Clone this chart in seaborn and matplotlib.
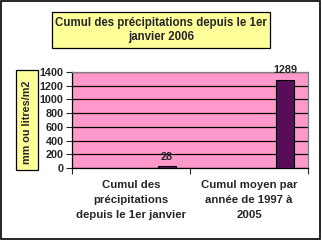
import matplotlib
matplotlib.use("Agg")
import matplotlib.pyplot as plt
import seaborn as sns
import pandas as pd
import numpy as np
from matplotlib.patches import Rectangle

categories = ["Cumul des\nprécipitations\ndepuis le 1er janvier",
              "Cumul moyen par\nannée de 1997 à\n2005"]
values = [28, 1289]
series = "Cumul"
hidden_series = ["s1", "s2"]
title = "Cumul des précipitations depuis le 1er\njanvier 2006"
ylabel = "mm ou litres/m2"
yticks = [0, 200, 400, 600, 800, 1000, 1200, 1400]

sns.set_style("white")
plt.rcParams['font.family'] = ['Liberation Sans', 'DejaVu Sans']
plt.rcParams['font.weight'] = 'bold'

rows = []
for c, v in zip(categories, values):
    for h in hidden_series:
        rows.append({"cat": c, "val": np.nan, "s": h})
    rows.append({"cat": c, "val": v, "s": series})
df = pd.DataFrame(rows)

fig = plt.figure(figsize=(3.22, 2.40), dpi=100)
fig.patch.set_facecolor("white")
fig.add_artist(Rectangle((0.003, 0.004), 0.992, 0.990, transform=fig.transFigure,
                         fill=False, edgecolor="black", linewidth=1.2))

ax = fig.add_axes([0.2236, 0.30, 0.733, 0.40])
ax.set_facecolor("#FF99CC")
sns.barplot(data=df, x="cat", y="val", hue="s", hue_order=hidden_series + [series],
            order=categories, palette=["#660066"] * 3, width=0.915, gap=0.5,
            edgecolor="black", linewidth=0.8, ax=ax, legend=False, zorder=3,
            errorbar=None)

ax.set_ylim(0, 1400)
ax.set_xlim(-0.5, 1.5)
ax.set_yticks(yticks)
ax.set_yticklabels([str(t) for t in yticks], fontsize=7.8, fontweight="bold")
ax.yaxis.grid(True, color="black", linewidth=0.9, zorder=1)
ax.set_axisbelow(True)
ax.tick_params(axis="y", direction="out", length=4, width=0.8, pad=2, left=True)

ax.set_xticks([0, 1])
ax.set_xticklabels(categories, fontsize=8.2, fontweight="bold", linespacing=1.65)
ax.tick_params(axis="x", length=0, pad=8.5)
ax.set_xticks([-0.5, 0.5, 1.5], minor=True)
ax.tick_params(axis="x", which="minor", direction="out", length=4, width=0.8, bottom=True)

for s in ["left", "bottom"]:
    ax.spines[s].set_color("black")
    ax.spines[s].set_linewidth(0.9)
for s in ["top", "right"]:
    ax.spines[s].set_color("#808080")
    ax.spines[s].set_linewidth(0.9)

for c in ax.containers:
    ax.bar_label(c, labels=[f"{v:g}" if v == v else "" for v in c.datavalues],
                 padding=3, fontsize=7.8, fontweight="bold")

ax.set_xlabel("")
ax.set_ylabel("")

# title box
fig.add_artist(Rectangle((52 / 322, 1 - 48 / 240), 218 / 322, 36 / 240,
                         transform=fig.transFigure, facecolor="#FFFF99",
                         edgecolor="black", linewidth=0.9, zorder=1))
fig.text(161 / 322, 1 - 30 / 240, title, ha="center", va="center", fontsize=8.3,
         fontweight="bold", linespacing=1.25, zorder=2)

# y label box
fig.add_artist(Rectangle((16 / 322, 1 - 170 / 240), 22 / 322, 100 / 240,
                         transform=fig.transFigure, facecolor="#FFFF99",
                         edgecolor="black", linewidth=0.9, zorder=1))
fig.text(27.5 / 322, 1 - 122 / 240, ylabel, ha="center", va="center", rotation=90,
         fontsize=7.8, fontweight="bold", zorder=2)

fig.savefig("out.png", dpi=100)
